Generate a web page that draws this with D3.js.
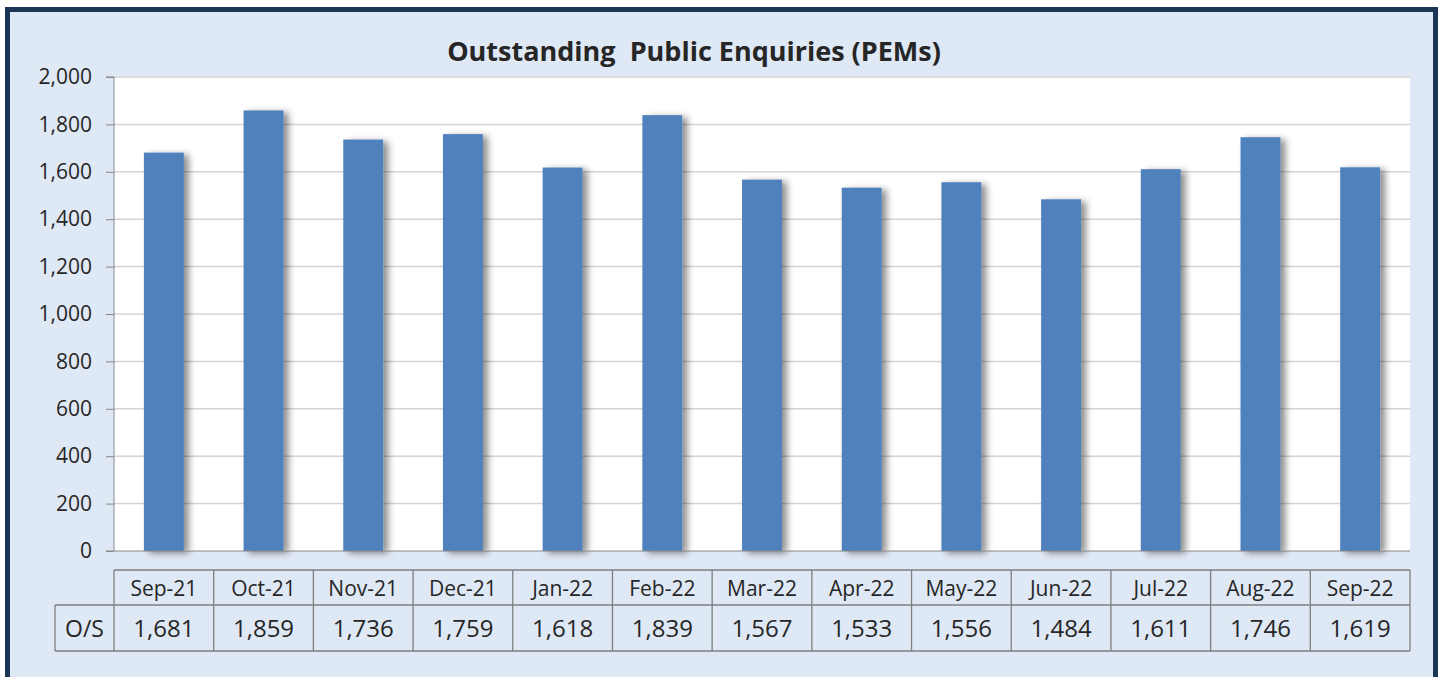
<!DOCTYPE html>
<html>
<head>
<meta charset="utf-8">
<script src="https://cdn.jsdelivr.net/npm/d3@7"></script>
<style>
  body { margin: 0; background: #ffffff; }
  text { font-family: "Open Sans", sans-serif; }
</style>
</head>
<body>
<svg id="chart" width="1445" height="677"></svg>
<script>
var months = ['Sep-21', 'Oct-21', 'Nov-21', 'Dec-21', 'Jan-22', 'Feb-22', 'Mar-22',
  'Apr-22', 'May-22', 'Jun-22', 'Jul-22', 'Aug-22', 'Sep-22'];
var outstanding = [1681, 1859, 1736, 1759, 1618, 1839, 1567, 1533, 1556, 1484, 1611, 1746, 1619];
var yTicks = [0, 200, 400, 600, 800, 1000, 1200, 1400, 1600, 1800, 2000];
var seriesName = 'O/S';
var title = 'Outstanding\u00a0 Public Enquiries (PEMs)';

var svg = d3.select('#chart');
var plotL = 114, plotR = 1410, plotT = 77, plotB = 551;

// frame
svg.append('rect').attr('x', 7.5).attr('y', 9.5).attr('width', 1428).attr('height', 680)
  .attr('fill', '#dfe8f5').attr('stroke', '#1b3557').attr('stroke-width', 5);

var defs = svg.append('defs');
var f = defs.append('filter').attr('id', 'shadow').attr('x', '-20%').attr('y', '-5%')
  .attr('width', '160%').attr('height', '110%');
f.append('feGaussianBlur').attr('in', 'SourceAlpha').attr('stdDeviation', 3.5).attr('result', 'b');
f.append('feOffset').attr('in', 'b').attr('dx', 5).attr('dy', 2).attr('result', 'o');
f.append('feComponentTransfer').attr('in', 'o').attr('result', 'o2')
  .append('feFuncA').attr('type', 'linear').attr('slope', 0.45);
var m = f.append('feMerge');
m.append('feMergeNode').attr('in', 'o2');
m.append('feMergeNode').attr('in', 'SourceGraphic');

svg.append('text').attr('x', 694).attr('y', 61).attr('text-anchor', 'middle')
  .attr('font-size', 27).attr('font-weight', 'bold').attr('fill', '#262626')
  .text(title);

var x = d3.scaleBand().domain(months).range([plotL, plotR]).paddingInner(0.6).paddingOuter(0.3);
var xCell = d3.scaleBand().domain(months).range([plotL, plotR]);
var y = d3.scaleLinear().domain([0, 2000]).range([plotB, plotT]);

svg.append('rect').attr('x', plotL).attr('y', plotT).attr('width', plotR - plotL)
  .attr('height', plotB - plotT).attr('fill', '#ffffff');

// gridlines
svg.append('g').selectAll('line').data(yTicks.slice(1)).enter().append('line')
  .attr('x1', plotL).attr('x2', plotR)
  .attr('y1', function(d) { return y(d); }).attr('y2', function(d) { return y(d); })
  .attr('stroke', '#d4d4d4').attr('stroke-width', 1.5);

// bars
svg.append('g').selectAll('rect').data(outstanding).enter().append('rect')
  .attr('x', function(d, i) { return x(months[i]); })
  .attr('y', function(d) { return y(d); })
  .attr('width', x.bandwidth())
  .attr('height', function(d) { return plotB - y(d); })
  .attr('fill', '#4f81bd')
  .attr('filter', 'url(#shadow)');

// y axis
var yAxis = d3.axisLeft(y).tickValues(yTicks).tickSize(8).tickPadding(14)
  .tickFormat(d3.format(','));
var ya = svg.append('g').attr('transform', 'translate(' + plotL + ',0)').call(yAxis);
ya.selectAll('text').attr('font-size', 21).attr('fill', '#262626')
  .style('font-family', '"Open Sans", sans-serif');
ya.selectAll('line, path').attr('stroke', '#888');
ya.select('.domain').attr('d', 'M-8,' + plotT + 'H0V' + plotB + 'H-8');
svg.append('line').attr('x1', plotL).attr('x2', plotR).attr('y1', plotB).attr('y2', plotB)
  .attr('stroke', '#888');

// data table
var r1 = 570, r2 = 605, r3 = 651, labelLeft = 55;
var tbl = svg.append('g').attr('fill', 'none').attr('stroke', '#7f7f7f').attr('stroke-width', 1.3);
tbl.append('line').attr('x1', plotL).attr('x2', plotR).attr('y1', r1).attr('y2', r1);
tbl.append('line').attr('x1', labelLeft).attr('x2', plotR).attr('y1', r2).attr('y2', r2);
tbl.append('line').attr('x1', labelLeft).attr('x2', plotR).attr('y1', r3).attr('y2', r3);
tbl.append('line').attr('x1', labelLeft).attr('x2', labelLeft).attr('y1', r2).attr('y2', r3);
tbl.selectAll('.v').data(months.concat(['end'])).enter().append('line')
  .attr('x1', function(d, i) { return plotL + i * xCell.step(); })
  .attr('x2', function(d, i) { return plotL + i * xCell.step(); })
  .attr('y1', r1).attr('y2', r3);

svg.append('g').selectAll('text').data(months).enter().append('text')
  .attr('x', function(d) { return xCell(d) + xCell.bandwidth() / 2; })
  .attr('y', (r1 + r2) / 2 + 8).attr('text-anchor', 'middle')
  .attr('font-size', 21).attr('fill', '#262626').text(function(d) { return d; });

svg.append('g').selectAll('text').data(outstanding).enter().append('text')
  .attr('x', function(d, i) { return xCell(months[i]) + xCell.bandwidth() / 2; })
  .attr('y', (r2 + r3) / 2 + 9).attr('text-anchor', 'middle')
  .attr('font-size', 24).attr('fill', '#262626').text(d3.format(','));

svg.append('text').attr('x', (labelLeft + plotL) / 2).attr('y', (r2 + r3) / 2 + 9)
  .attr('text-anchor', 'middle').attr('font-size', 23).attr('fill', '#262626').text(seriesName);
</script>
</body>
</html>
